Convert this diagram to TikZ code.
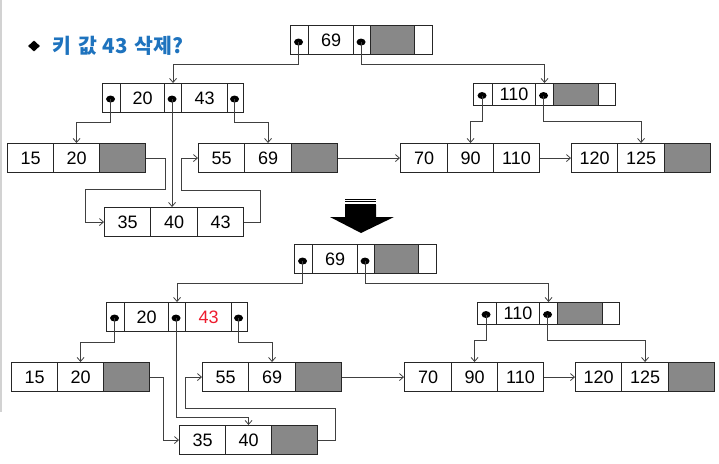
\documentclass[tikz,border=0pt]{standalone}
\usepackage{fontspec}
\setmainfont{Liberation Sans}
\newfontfamily\krfont{Noto Sans CJK KR}
\usetikzlibrary{arrows.meta,calc,shapes.geometric}
\definecolor{titleblue}{RGB}{30,115,190}
\definecolor{keyred}{RGB}{237,28,46}
\definecolor{cellgray}{RGB}{136,136,136}
\tikzset{
  cellst/.style={draw=black!85,line width=1.1pt,inner sep=0pt,anchor=north west,
    minimum height=29pt,font=\fontsize{18}{20}\selectfont},
  smallst/.style={cellst,minimum height=22pt},
  grayc/.style={fill=cellgray},
  dotst/.style={ellipse,fill=black,inner sep=0pt,minimum width=9pt,minimum height=7pt},
  conn/.style={draw=black!75,line width=0.8pt,-{Straight Barb[length=4pt,width=7pt]}},
}
\begin{document}
\begin{tikzpicture}[x=1pt,y=-1pt]
\useasboundingbox (0,0) rectangle (719,463);
\draw[gray!35,line width=1.5pt] (1,0) -- (1,412);
% title
\node[fill=black,diamond,inner sep=0pt,minimum width=12pt,minimum height=11pt] (bul) at (34,46) {};
\node[anchor=base west,inner sep=0pt,text=titleblue,font=\krfont\bfseries\fontsize{20.5}{24}\selectfont] (title) at (52,53) {키\hspace{7pt}값\hspace{6pt}43\hspace{7pt}삭제?};
% big arrow
\draw[black,line width=0.9pt] (345,199.5) -- (376,199.5);
\draw[black,line width=0.9pt] (345,201.8) -- (376,201.8);
\draw[black,line width=0.9pt] (345,204) -- (376,204);
\fill[black] (345,205) -- (376,205) -- (376,217) -- (394,217) -- (361,233) -- (330,217) -- (345,217) -- cycle;

% ================= TOP TREE =================
% root
\node[cellst,minimum width=18pt] (rA) at (290,25) {};
\node[cellst,minimum width=45pt] (rB) at (308,25) {69};
\node[cellst,minimum width=17pt] (rC) at (353,25) {};
\node[cellst,grayc,minimum width=44pt] (rD) at (370,25) {};
\node[cellst,minimum width=18pt] (rE) at (414,25) {};
% internal 20 43
\node[cellst,minimum width=18pt] (nA) at (102,83) {};
\node[cellst,minimum width=44pt] (nB) at (120,83) {20};
\node[cellst,minimum width=17pt] (nC) at (164,83) {};
\node[cellst,minimum width=46pt] (nD) at (181,83) {43};
\node[cellst,minimum width=16pt] (nE) at (227,83) {};
% internal 110
\node[smallst,minimum width=19pt] (mA) at (473,83) {};
\node[smallst,minimum width=43pt] (mB) at (492,83) {110};
\node[smallst,minimum width=18pt] (mC) at (535,83) {};
\node[smallst,grayc,minimum width=45pt] (mD) at (553,83) {};
\node[smallst,minimum width=17pt] (mE) at (598,83) {};
% leaves
\node[cellst,minimum width=46pt] (aA) at (7,143) {15};
\node[cellst,minimum width=46pt] (aB) at (53,143) {20};
\node[cellst,grayc,minimum width=46pt] (aC) at (99,143) {};
\node[cellst,minimum width=46pt] (bA) at (104,207) {35};
\node[cellst,minimum width=47pt] (bB) at (150,207) {40};
\node[cellst,minimum width=46pt] (bC) at (197,207) {43};
\node[cellst,minimum width=46pt] (cA) at (198,143) {55};
\node[cellst,minimum width=47pt] (cB) at (244,143) {69};
\node[cellst,grayc,minimum width=46pt] (cC) at (291,143) {};
\node[cellst,minimum width=47pt] (dA) at (400,143) {70};
\node[cellst,minimum width=46pt] (dB) at (447,143) {90};
\node[cellst,minimum width=46pt] (dC) at (493,143) {110};
\node[cellst,minimum width=46pt] (eA) at (571,143) {120};
\node[cellst,minimum width=47pt] (eB) at (617,143) {125};
\node[cellst,grayc,minimum width=46pt] (eC) at (664,143) {};
% pointer dots
\node[dotst] (rAd) at ($(rA.center)+(-1,2)$) {};
\node[dotst] (rCd) at ($(rC.center)+(-1,2)$) {};
\node[dotst] (nAd) at ($(nA.center)+(-1,1)$) {};
\node[dotst] (nCd) at ($(nC.center)+(-1,1)$) {};
\node[dotst] (nEd) at ($(nE.center)+(-1,1)$) {};
\node[dotst] (mAd) at ($(mA.center)+(-1,1)$) {};
\node[dotst] (mCd) at ($(mC.center)+(-1,1)$) {};
% connectors
\draw[conn] (rAd.center) -- ++(0,22) -| (nC.north);
\draw[conn] (rCd.center) -- ++(0,22) -| (mC.north);
\draw[conn] (nAd.center) -- ++(0,23) -| (aB.north);
\draw[conn] (nCd.center) -- (nCd.center |- bB.north);
\draw[conn] (nEd.center) -- ++(0,23) -| (cB.north);
\draw[conn] (mAd.center) -- ++(0,26) -| (dB.north);
\draw[conn] (mCd.center) -- ++(0,26) -| (eB.north);
\draw[conn] (aC.east) -- ++(19,0) -- ++(0,31) -- ++(-80,0) |- (bA.west);
\draw[conn] (bC.east) -- ++(16,0) -- ++(0,-32) -- ++(-79,0) |- (cA.west);
\draw[conn] (cC.east) -- (dA.west);
\draw[conn] (dC.east) -- (eA.west);

% ================= BOTTOM TREE =================
\begin{scope}[shift={(4,219)}]
\node[cellst,minimum width=18pt] (xrA) at (290,25) {};
\node[cellst,minimum width=45pt] (xrB) at (308,25) {69};
\node[cellst,minimum width=17pt] (xrC) at (353,25) {};
\node[cellst,grayc,minimum width=44pt] (xrD) at (370,25) {};
\node[cellst,minimum width=18pt] (xrE) at (414,25) {};
\node[cellst,minimum width=18pt] (xnA) at (102,83) {};
\node[cellst,minimum width=44pt] (xnB) at (120,83) {20};
\node[cellst,minimum width=17pt] (xnC) at (164,83) {};
\node[cellst,minimum width=46pt,text=keyred] (xnD) at (181,83) {43};
\node[cellst,minimum width=16pt] (xnE) at (227,83) {};
\node[smallst,minimum width=19pt] (xmA) at (473,83) {};
\node[smallst,minimum width=43pt] (xmB) at (492,83) {110};
\node[smallst,minimum width=18pt] (xmC) at (535,83) {};
\node[smallst,grayc,minimum width=45pt] (xmD) at (553,83) {};
\node[smallst,minimum width=17pt] (xmE) at (598,83) {};
\node[cellst,minimum width=46pt] (xaA) at (7,143) {15};
\node[cellst,minimum width=46pt] (xaB) at (53,143) {20};
\node[cellst,grayc,minimum width=46pt] (xaC) at (99,143) {};
\node[cellst,minimum width=46pt] (xbA) at (175,206) {35};
\node[cellst,minimum width=46pt] (xbB) at (221,206) {40};
\node[cellst,grayc,minimum width=46pt] (xbC) at (267,206) {};
\node[cellst,minimum width=46pt] (xcA) at (198,143) {55};
\node[cellst,minimum width=47pt] (xcB) at (244,143) {69};
\node[cellst,grayc,minimum width=46pt] (xcC) at (291,143) {};
\node[cellst,minimum width=47pt] (xdA) at (400,143) {70};
\node[cellst,minimum width=46pt] (xdB) at (447,143) {90};
\node[cellst,minimum width=46pt] (xdC) at (493,143) {110};
\node[cellst,minimum width=46pt] (xeA) at (571,143) {120};
\node[cellst,minimum width=47pt] (xeB) at (617,143) {125};
\node[cellst,grayc,minimum width=46pt] (xeC) at (664,143) {};
\node[dotst] (xrAd) at ($(xrA.center)+(-1,2)$) {};
\node[dotst] (xrCd) at ($(xrC.center)+(-1,2)$) {};
\node[dotst] (xnAd) at ($(xnA.center)+(-1,1)$) {};
\node[dotst] (xnCd) at ($(xnC.center)+(-1,1)$) {};
\node[dotst] (xnEd) at ($(xnE.center)+(-1,1)$) {};
\node[dotst] (xmAd) at ($(xmA.center)+(-1,1)$) {};
\node[dotst] (xmCd) at ($(xmC.center)+(-1,1)$) {};
\draw[conn] (xrAd.center) -- ++(0,22) -| (xnC.north);
\draw[conn] (xrCd.center) -- ++(0,22) -| (xmC.north);
\draw[conn] (xnAd.center) -- ++(0,24) -| (xaB.north);
\draw[conn] (xnCd.center) -- ++(0,99) -| (xbB.north);
\draw[conn] (xnEd.center) -- ++(0,24) -| (xcB.north);
\draw[conn] (xmAd.center) -- ++(0,26) -| (xdB.north);
\draw[conn] (xmCd.center) -- ++(0,26) -| (xeB.north);
\draw[conn] (xaC.east) -- ++(13,0) |- (xbA.west);
\draw[conn] (xbC.east) -- ++(17,0) -- ++(0,-32) -- ++(-150,0) |- (xcA.west);
\draw[conn] (xcC.east) -- (xdA.west);
\draw[conn] (xdC.east) -- (xeA.west);
\end{scope}
\end{tikzpicture}
\end{document}
